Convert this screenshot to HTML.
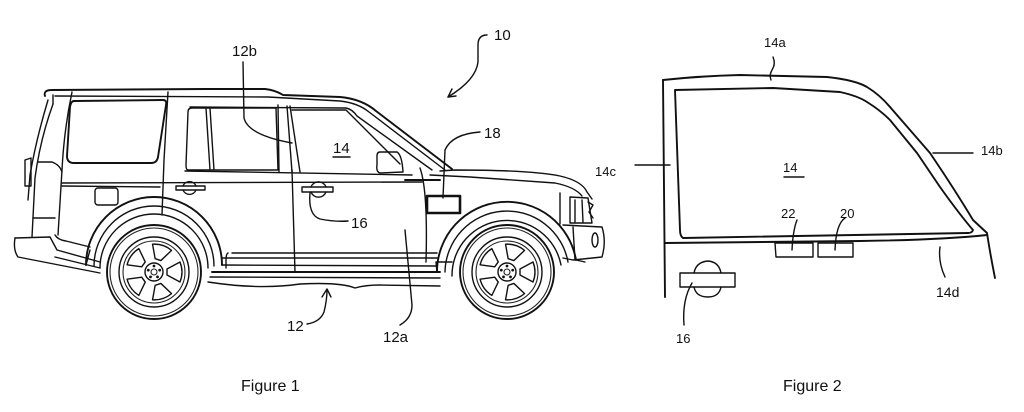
<!DOCTYPE html>
<html><head><meta charset="utf-8"><style>
html,body{margin:0;padding:0;background:#fff;}
svg{display:block;}
text{font-family:"Liberation Sans",sans-serif;fill:#111;}
.l{fill:none;stroke:#111;stroke-width:1.4;stroke-linecap:round;stroke-linejoin:round;}
.t{fill:none;stroke:#111;stroke-width:1.9;stroke-linecap:round;stroke-linejoin:round;}
.f{fill:none;stroke:#222;stroke-width:1.1;stroke-linecap:round;}
</style></head><body>
<svg width="1024" height="412" viewBox="0 0 1024 412" xmlns="http://www.w3.org/2000/svg">
<defs>
<g id="wheel">
  <circle r="47" class="t"/>
  <circle r="44" class="f"/>
  <circle r="35" class="l"/>
  <circle r="31" class="f"/>
  <circle r="9" class="l"/>
  <circle r="3" class="f"/>
  <g class="l"><path d="M13,-3 L26,-10 Q30,0 26,10 L13,3 Z"/></g>
  <g class="l" transform="rotate(72)"><path d="M13,-3 L26,-10 Q30,0 26,10 L13,3 Z"/></g>
  <g class="l" transform="rotate(144)"><path d="M13,-3 L26,-10 Q30,0 26,10 L13,3 Z"/></g>
  <g class="l" transform="rotate(216)"><path d="M13,-3 L26,-10 Q30,0 26,10 L13,3 Z"/></g>
  <g class="l" transform="rotate(288)"><path d="M13,-3 L26,-10 Q30,0 26,10 L13,3 Z"/></g>
  <circle cx="0" cy="-6" r="1.4" fill="#111"/><circle cx="5.7" cy="-1.9" r="1.4" fill="#111"/><circle cx="3.5" cy="4.9" r="1.4" fill="#111"/><circle cx="-3.5" cy="4.9" r="1.4" fill="#111"/><circle cx="-5.7" cy="-1.9" r="1.4" fill="#111"/>
</g>
</defs>

<!-- ========== FIGURE 1 ========== -->
<path class="t" d="M45,96 Q43,90 52,90 L205,89 L265,89 Q275,90 283,95 L340,97 Q362,99 376,111 L452,169"/>
<path class="l" d="M53,95 L53,104 M55,96 L268,97 L340,101 Q358,103 369,112 L445,170"/>
<path class="l" d="M190,107 L346,108 Q352,109 357,116 L432,170"/>
<path class="l" d="M53,104 Q40,140 35,178 L32,237"/>
<path class="l" d="M48,100 Q36,140 30,175 L28,200"/>
<path class="l" d="M25,160 L31,158 L31,186 L25,186 Z"/>
<path class="l" d="M72,92 Q64,130 62,170 L58,235"/>
<path class="l" d="M38,162 L52,162 Q60,165 62,172"/>
<path class="l" d="M33,218 L55,218"/>
<path class="l" d="M55,235 Q58,240 66,241 L90,247"/>
<path class="l" d="M15,238 L50,237 L57,250 L100,262"/>
<path class="l" d="M15,238 Q13,250 18,257 L100,273"/>
<path class="l" d="M55,257 L100,268"/>
<path class="t" d="M74,101 L163,100 Q167,100 166,105 L158,157 Q157,163 151,163 L74,163 Q67,163 67,156 L70,107 Q71,101 74,101 Z"/>
<path class="l" d="M168,92 L164,160 L162,215"/>
<path class="l" d="M192,108 L276,108 L278,170 L188,170 Q186,170 186,165 L188,112 Q188,108 192,108 Z"/>
<path class="l" d="M206,108 L210,170 M210,108 L214,170"/>
<path class="l" d="M278,105 L279,172 M287,106 L292,172 M290,106 L300,172"/>
<path class="l" d="M292,110 L346,110 L400,164"/>
<path class="l" d="M185,171 L412,175"/>
<path class="l" d="M380,152 L397,152 Q402,155 403,172 L380,173 Q376,172 377,165 L377,156 Q377,152 380,152 Z"/>
<path class="l" d="M243,62 L244,118 Q248,135 292,143"/>
<path class="l" d="M62,183 L422,182 M62,186 L160,187"/>
<path class="t" d="M405,180 L440,180"/>
<path class="l" d="M176,186 L205,186 L205,190 L176,190 Z"/>
<path class="l" d="M183,186 A7,7 0 0 1 196,186 M183,190 A7,7 0 0 0 196,190"/>
<path class="l" d="M302,187 L333,187 L333,192 L302,192 Z"/>
<path class="l" d="M311,187 A8,8 0 0 1 326,187 M311,192 A8,8 0 0 0 326,192"/>
<rect x="95" y="188" width="23" height="17" rx="3" class="l"/>
<path class="l" d="M292,170 L295,272"/>
<path class="l" d="M310,193 Q308,215 320,219 Q335,222 348,221"/>
<path class="l" d="M420,168 Q428,190 426,262"/>
<!-- hood -->
<path class="l" d="M440,171 L455,170 Q530,170 560,176 Q582,181 587,192 L592,199"/>
<path class="l" d="M430,175 L470,177 L555,183 Q575,187 582,196"/>
<rect x="427" y="196" width="33" height="17" class="t" style="stroke-width:2.6"/>
<path class="l" d="M480,132 Q452,134 445,150 L443,198"/>
<!-- front end -->
<path class="l" d="M560,193 L560,224"/>
<path class="l" d="M570,197 L588,198 L592,223 L570,223 Z"/>
<path class="l" d="M575,200 L575,222 M582,200 L583,222 M588,202 L593,205 L589,212 L593,218"/>
<path class="l" d="M563,225 L602,227 Q606,240 603,253 L602,257 L573,260 L563,258"/>
<path class="l" d="M573,227 L575,260"/>
<ellipse cx="595" cy="240" rx="3" ry="7" class="l"/>
<!-- arches -->
<path class="t" d="M437,272 A70,70 0 0 1 576,260"/>
<path class="l" d="M445,272 A62,62 0 0 1 568,262"/>
<path class="l" d="M452,276 A55,55 0 0 1 561,265"/>
<path class="l" d="M437,272 L436,262 L452,262 M576,260 L585,262"/>
<path class="t" d="M86,265 A68,68 0 0 1 222,265"/>
<path class="l" d="M94,266 A60,60 0 0 1 214,266"/>
<path class="l" d="M100,268 A54,54 0 0 1 208,268"/>
<path class="l" d="M86,265 L90,250"/>
<!-- sill -->
<path class="l" d="M232,253 L437,253 M228,253 Q226,254 226,260 L226,268"/>
<path class="l" d="M222,258 L437,258"/>
<path class="l" d="M222,265 L437,266"/>
<path class="t" d="M212,272 L440,272"/>
<path class="l" d="M210,277 L440,278"/>
<path class="l" d="M208,282 Q260,290 300,284 Q340,282 355,288 Q365,285 380,285 L440,286"/>
<use href="#wheel" x="154" y="272"/>
<use href="#wheel" x="507" y="272"/>
<path class="l" d="M307,324 Q320,322 324,312 Q327,300 327,290"/>
<path class="l" d="M322,297 L327,289 L331,297"/>
<path class="l" d="M405,230 L412,305 Q412,318 400,325"/>
<path class="l" d="M487,35 Q478,35 478,45 L478,62 Q476,80 448,97"/>
<path class="l" d="M448,97 L456,96 M448,97 L452,89"/>
<text x="232" y="56" font-size="15">12b</text>
<text x="494" y="40" font-size="15">10</text>
<text x="484" y="138" font-size="15">18</text>
<text x="333" y="153" font-size="15">14</text>
<path class="l" d="M333,157 L350,157"/>
<text x="351" y="228" font-size="15">16</text>
<text x="287" y="331" font-size="15">12</text>
<text x="383" y="342" font-size="15">12a</text>
<text x="241" y="391" font-size="16">Figure 1</text>

<!-- ========== FIGURE 2 ========== -->
<path class="t" d="M663,80 L665,297"/>
<path class="t" d="M663,80 Q700,76 740,75 L827,77 Q855,80 867,87 Q880,95 890,107 L930,153 Q955,190 973,220 L987,233 Q990,253 995,278"/>
<path class="t" d="M675,90 L773,88 L840,92 Q858,96 867,102 Q880,110 890,120 L917,153 L940,187 Q960,215 973,230 Q972,233 968,233 L683,238 Q680,236 680,230 Z"/>
<path class="t" d="M665,243 L860,241 Q940,240 987,235"/>
<path class="l" d="M775,243 L813,243 L813,257 L776,257 Z"/>
<path class="l" d="M818,243 L853,243 L853,257 L818,257 Z"/>
<path class="l" d="M680,273 L735,273 L735,287 L680,287 Z"/>
<path class="l" d="M694,273 Q696,262 708,261 Q719,262 721,273 M694,287 Q696,297 708,297 Q719,297 721,287"/>
<path class="l" d="M773,57 Q776,64 772,70 Q769,75 771,80"/>
<path class="l" d="M933,153 L973,153"/>
<path class="l" d="M635,165 L670,165"/>
<path class="l" d="M940,247 Q938,262 945,277"/>
<path class="l" d="M845,218 Q836,224 835,250"/>
<path class="l" d="M797,220 Q793,230 792,250"/>
<path class="l" d="M692,283 Q682,300 684,325"/>
<text x="764" y="47" font-size="13">14a</text>
<text x="981" y="155" font-size="13">14b</text>
<text x="595" y="176" font-size="13">14c</text>
<text x="783" y="172" font-size="13">14</text>
<path class="l" d="M784,177 L804,177"/>
<text x="781" y="218" font-size="13">22</text>
<text x="840" y="218" font-size="13">20</text>
<text x="936" y="297" font-size="14">14d</text>
<text x="676" y="343" font-size="13">16</text>
<text x="783" y="391" font-size="16">Figure 2</text>
</svg>
</body></html>
